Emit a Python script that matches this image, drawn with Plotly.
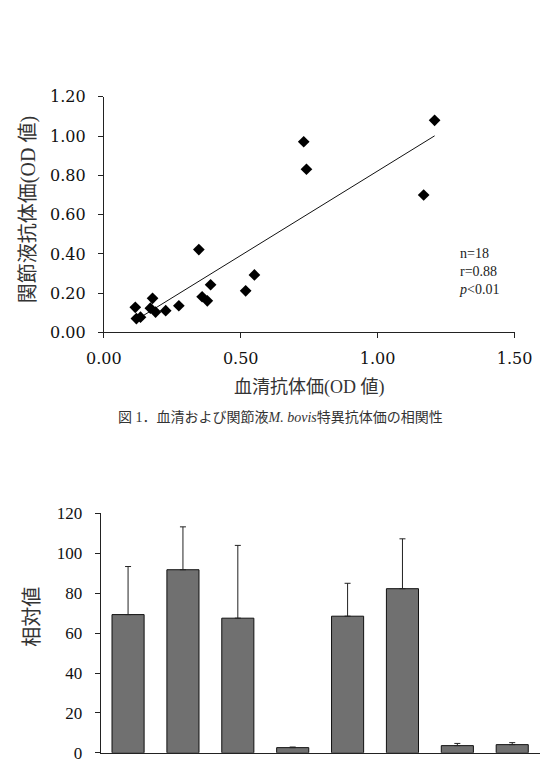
import numpy as np
import plotly.graph_objects as go

# ---- scatter data (serum vs joint fluid OD) ----
serum_od = [0.115, 0.119, 0.134, 0.178, 0.170, 0.189, 0.226, 0.274, 0.347,
            0.359, 0.378, 0.390, 0.518, 0.550, 0.730, 0.740, 1.168, 1.208]
joint_od = [0.128, 0.071, 0.078, 0.174, 0.124, 0.104, 0.111, 0.136, 0.422,
            0.182, 0.161, 0.243, 0.212, 0.293, 0.971, 0.831, 0.700, 1.080]
stats_text = "n=18<br>r=0.88<br><i>p</i><0.01"

# ---- bar data ----
bar_categories = ["1", "2", "3", "4", "5", "6", "7", "8"]
bar_values = [69.3, 91.8, 67.5, 2.6, 68.5, 82.3, 3.6, 4.1]
bar_errors = [24.1, 21.5, 36.5, 0.3, 16.5, 25.0, 1.1, 1.0]

x_ticks = [0.0, 0.5, 1.0, 1.5]
y_ticks = [0.0, 0.2, 0.4, 0.6, 0.8, 1.0, 1.2]
bar_ticks = [0, 20, 40, 60, 80, 100, 120]

W, H = 560, 767


def py(p):
    return 1 - p / H


def px(p):
    return p / W


slope, intercept = np.polyfit(serum_od, joint_od, 1)
xl = np.array([min(serum_od), max(serum_od)])
yl = slope * xl + intercept

fig = go.Figure()
fig.add_trace(go.Scatter(x=xl, y=yl, mode="lines",
                         line=dict(color="#111", width=1),
                         xaxis="x", yaxis="y", showlegend=False))
fig.add_trace(go.Scatter(x=serum_od, y=joint_od, mode="markers",
                         marker=dict(symbol="diamond", size=9, color="#000"),
                         xaxis="x", yaxis="y", showlegend=False))

fig.add_trace(go.Bar(x=bar_categories, y=bar_values,
                     marker=dict(color="#707070", line=dict(color="#111", width=1)),
                     width=0.585,
                     error_y=dict(type="data", symmetric=False, array=bar_errors,
                                  arrayminus=[0] * len(bar_errors),
                                  color="#222", thickness=1, width=3),
                     xaxis="x2", yaxis="y2", showlegend=False))

tick_font = dict(family="DejaVu Serif", size=16, color="#111")
bar_tick_font = dict(family="Liberation Serif", size=17, color="#111")
jp = "Liberation Serif, Noto Sans CJK JP"

fig.update_layout(
    width=W, height=H,
    margin=dict(l=0, r=0, t=0, b=0),
    paper_bgcolor="white", plot_bgcolor="white",
    xaxis=dict(domain=[px(91.7), px(530.7)], range=[0, 1.5],
               tickvals=x_ticks, ticktext=[f"{v:.2f}" for v in x_ticks],
               showline=True, linecolor="#222", linewidth=1,
               ticks="outside", ticklen=5, tickcolor="#222",
               showgrid=False, zeroline=False, tickfont=tick_font,
               ticklabelstandoff=6, anchor="y"),
    yaxis=dict(domain=[py(331.7), py(90)], range=[0, 1.2],
               tickvals=y_ticks, ticktext=[f"{v:.2f}" for v in y_ticks],
               showline=True, linecolor="#222", linewidth=1,
               ticks="outside", ticklen=5, tickcolor="#222",
               showgrid=False, zeroline=False, tickfont=tick_font,
               ticklabelstandoff=9, anchor="x"),
    xaxis2=dict(domain=[px(88.3), px(557.5)], range=[-0.5, 7.5],
                showline=True, linecolor="#222", linewidth=1,
                showticklabels=False, ticks="", showgrid=False,
                zeroline=False, anchor="y2"),
    yaxis2=dict(domain=[py(762.7), py(517.3)], range=[0, 120],
                tickvals=bar_ticks,
                showline=True, linecolor="#222", linewidth=1,
                ticks="outside", ticklen=5, tickcolor="#222",
                showgrid=False, zeroline=False, tickfont=bar_tick_font,
                ticklabelstandoff=9, anchor="x2"),
    annotations=[
        dict(text=stats_text, x=px(469), y=py(269), xref="paper", yref="paper",
             xanchor="left", yanchor="middle", align="left", showarrow=False,
             font=dict(family="Liberation Serif", size=14, color="#222")),
        dict(text="血清抗体価(OD 値)", x=px(312), y=py(388), xref="paper", yref="paper",
             xanchor="center", yanchor="middle", showarrow=False,
             font=dict(family=jp, size=18, color="#333")),
        dict(text="関節液抗体価(OD 値)", x=px(12), y=py(206), xref="paper", yref="paper",
             xanchor="center", yanchor="middle", showarrow=False, textangle=-90,
             font=dict(family=jp, size=20, color="#333")),
        dict(text="図 1．血清および関節液<i>M. bovis</i>特異抗体価の相関性",
             x=px(280), y=py(418), xref="paper", yref="paper",
             xanchor="center", yanchor="middle", showarrow=False,
             font=dict(family=jp, size=14, color="#333")),
        dict(text="相対値", x=px(14), y=py(623), xref="paper", yref="paper",
             xanchor="center", yanchor="middle", showarrow=False, textangle=-90,
             font=dict(family=jp, size=20, color="#333")),
    ],
)

fig.write_html("out.html",
               post_script="document.body.style.margin='0';document.body.style.padding='0';")
